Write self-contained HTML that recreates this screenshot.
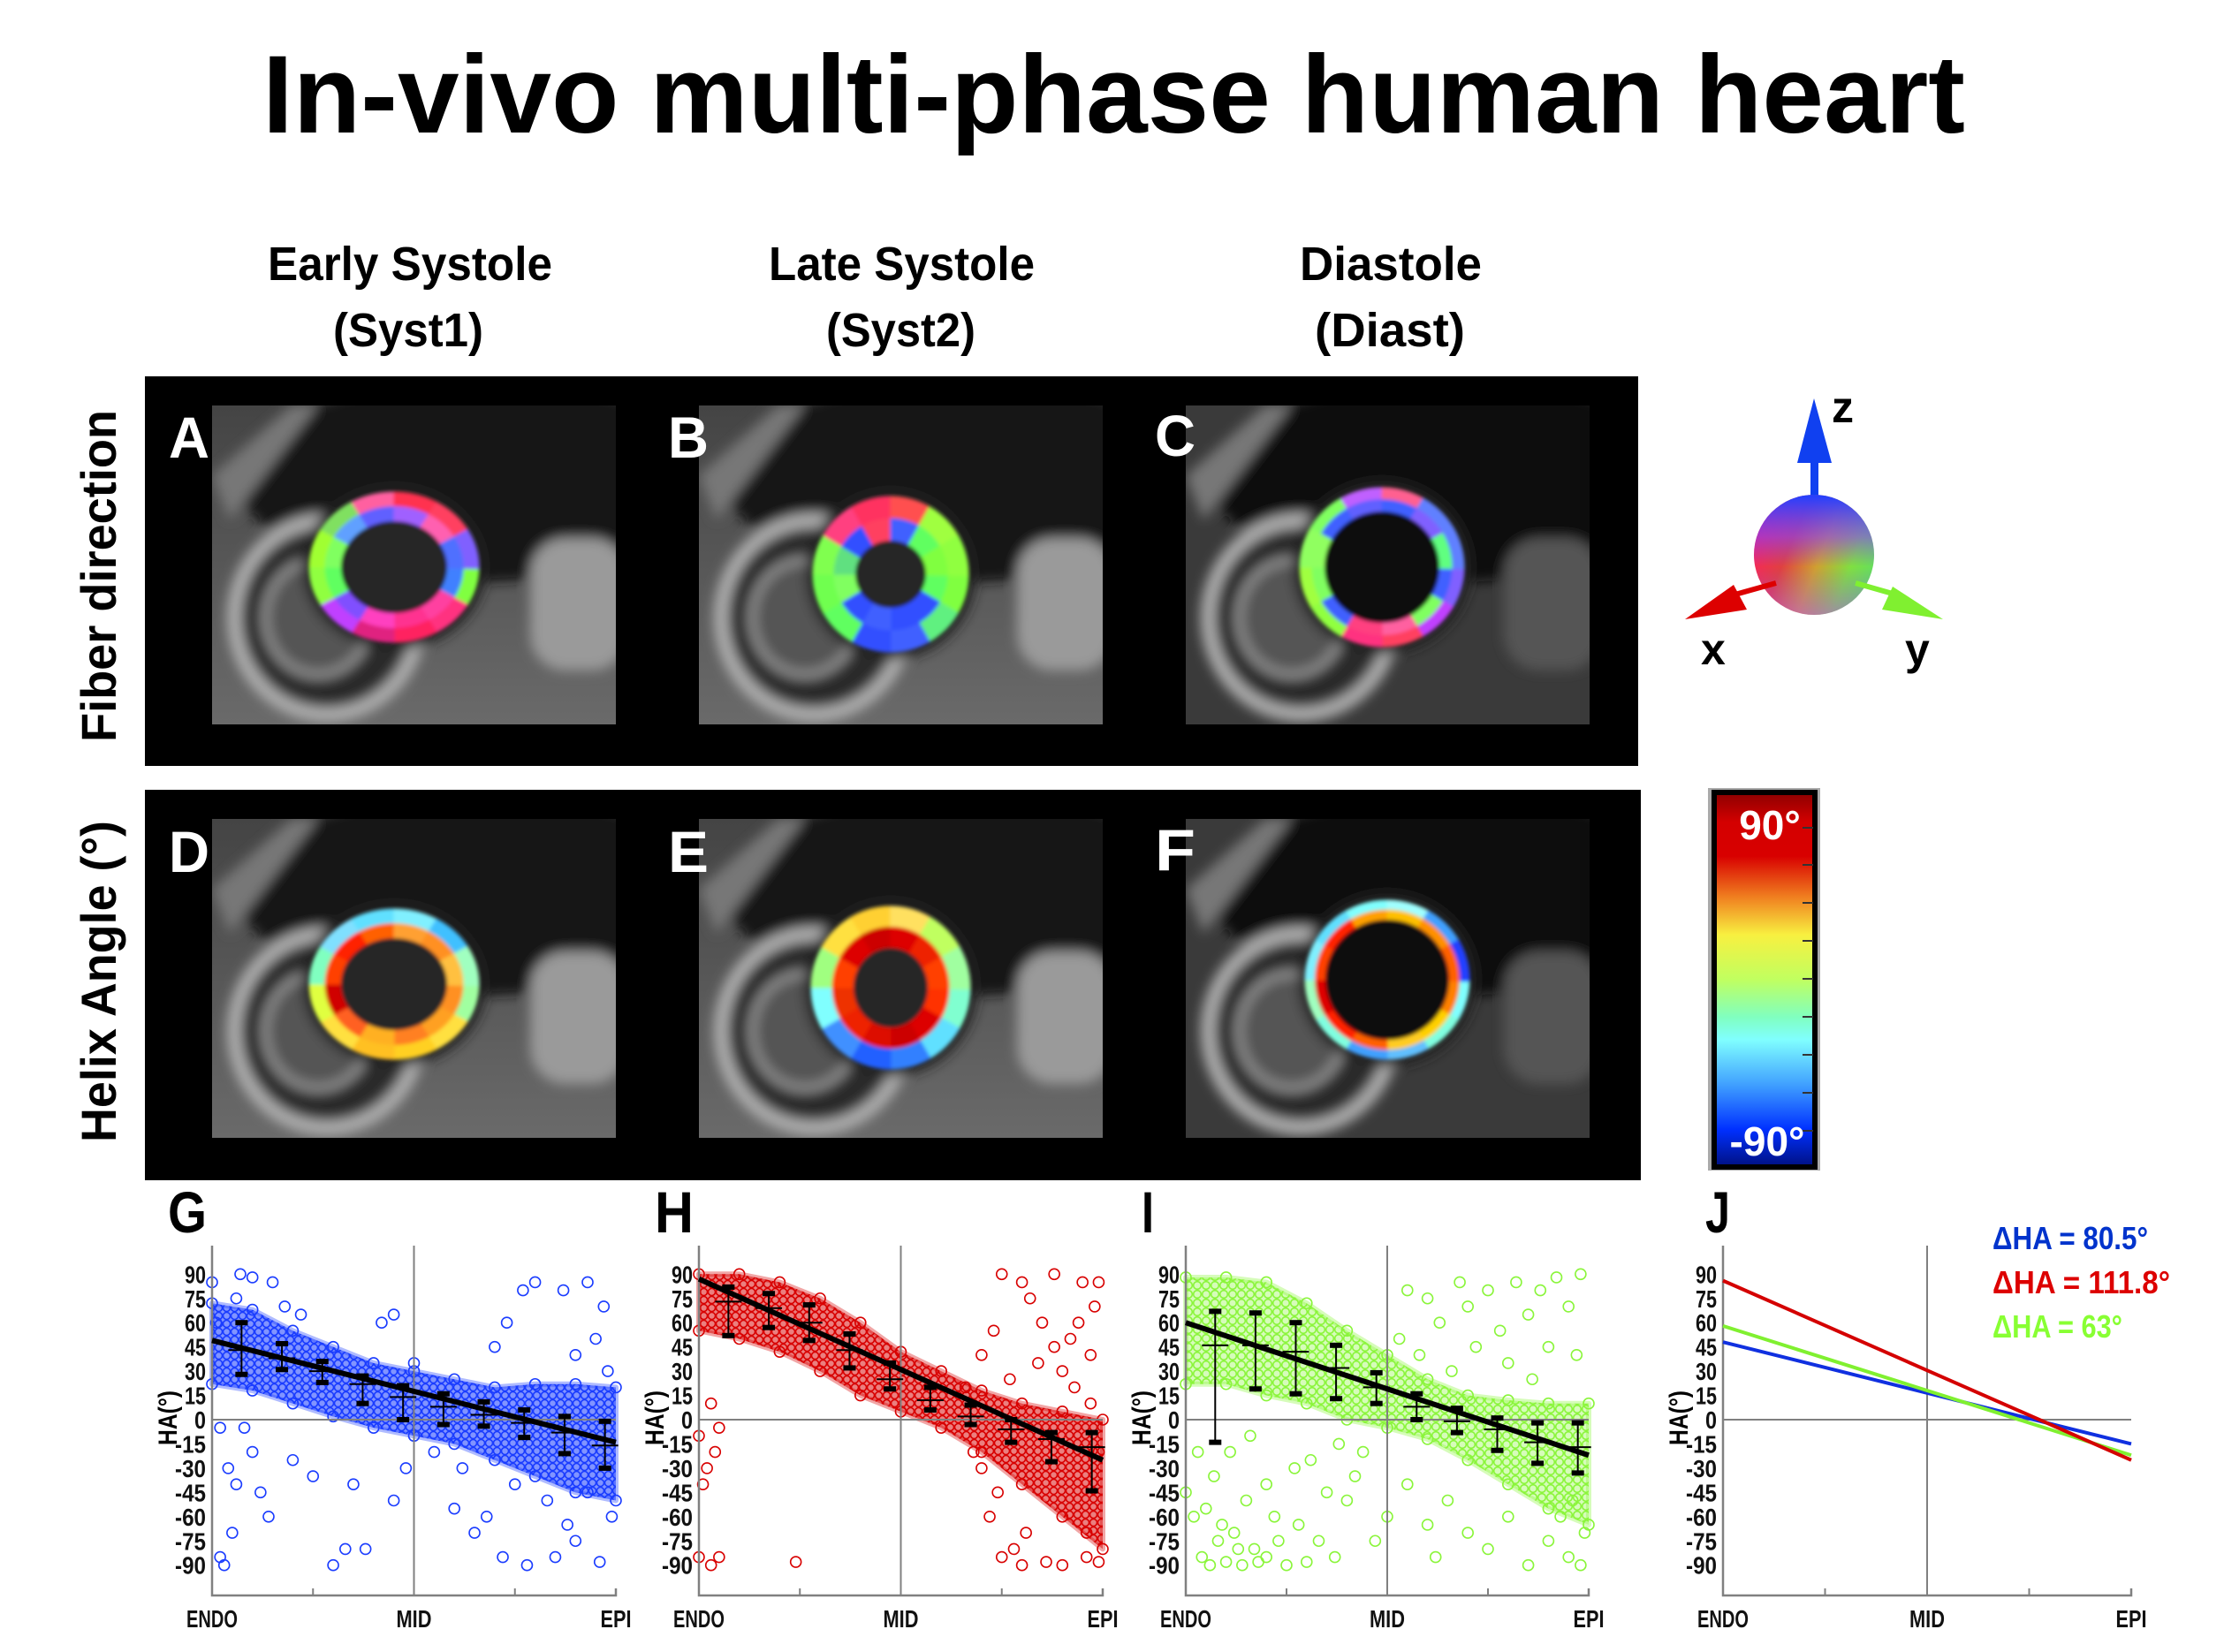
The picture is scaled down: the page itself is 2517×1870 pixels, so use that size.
<!DOCTYPE html>
<html><head><meta charset="utf-8"><title>In-vivo multi-phase human heart</title>
<style>
html,body{margin:0;padding:0;background:#fff;}
svg{display:block;}
text{font-family:"Liberation Sans",sans-serif;font-weight:bold;}
</style></head>
<body>
<svg id="fig" xmlns="http://www.w3.org/2000/svg" width="2517" height="1870" viewBox="0 0 2517 1870">
<defs>
  <filter id="blur6" x="-20%" y="-20%" width="140%" height="140%"><feGaussianBlur stdDeviation="7"/></filter>
  <filter id="blur2" x="-10%" y="-10%" width="120%" height="120%"><feGaussianBlur stdDeviation="2.2"/></filter>
  <pattern id="patB" width="9" height="9" patternUnits="userSpaceOnUse"><rect width="9" height="9" fill="#1a3cff" fill-opacity="0.55"/><circle cx="4.5" cy="4.5" r="4" fill="none" stroke="#1a3cff" stroke-width="1.6"/></pattern>
  <pattern id="patR" width="9" height="9" patternUnits="userSpaceOnUse"><rect width="9" height="9" fill="#d80000" fill-opacity="0.5"/><circle cx="4.5" cy="4.5" r="4" fill="none" stroke="#d80000" stroke-width="1.6"/></pattern>
  <pattern id="patG" width="10" height="10" patternUnits="userSpaceOnUse"><rect width="10" height="10" fill="#8af53a" fill-opacity="0.35"/><circle cx="5" cy="5" r="4.3" fill="none" stroke="#8af53a" stroke-width="1.6"/></pattern>
  <linearGradient id="cbar" x1="0" y1="0" x2="0" y2="1">
    <stop offset="0" stop-color="#8b0000"/><stop offset="0.08" stop-color="#d40000"/><stop offset="0.17" stop-color="#d80000"/>
    <stop offset="0.28" stop-color="#f08020"/><stop offset="0.38" stop-color="#f8f040"/><stop offset="0.5" stop-color="#c0ff60"/>
    <stop offset="0.6" stop-color="#80ffc0"/><stop offset="0.66" stop-color="#80ffff"/><stop offset="0.78" stop-color="#40a0ff"/>
    <stop offset="0.9" stop-color="#0030ff"/><stop offset="1" stop-color="#001080"/>
  </linearGradient>
  <linearGradient id="sphA" x1="0" y1="0.3" x2="1" y2="0.7">
    <stop offset="0" stop-color="#ff2060"/><stop offset="0.3" stop-color="#e04040"/><stop offset="0.55" stop-color="#d0a030"/><stop offset="0.8" stop-color="#80e040"/><stop offset="1" stop-color="#60e060"/>
  </linearGradient>
  <linearGradient id="sphB" x1="0" y1="0" x2="0" y2="1">
    <stop offset="0" stop-color="#2040ff" stop-opacity="1"/><stop offset="0.35" stop-color="#8040ff" stop-opacity="0.6"/><stop offset="0.6" stop-color="#8040ff" stop-opacity="0"/><stop offset="1" stop-color="#c040ff" stop-opacity="0.5"/>
  </linearGradient>
  <linearGradient id="mriBase" x1="0" y1="0" x2="0" y2="1">
    <stop offset="0" stop-color="#444"/><stop offset="1" stop-color="#6a6a6a"/>
  </linearGradient>
</defs>

<text x="297" y="150" font-size="125" textLength="1927" lengthAdjust="spacingAndGlyphs">In-vivo multi-phase human heart</text>

<text x="303" y="317" font-size="54" textLength="322" lengthAdjust="spacingAndGlyphs">Early Systole</text>
<text x="377" y="392" font-size="54" textLength="170" lengthAdjust="spacingAndGlyphs">(Syst1)</text>
<text x="870" y="317" font-size="54" textLength="301" lengthAdjust="spacingAndGlyphs">Late Systole</text>
<text x="935" y="392" font-size="54" textLength="169" lengthAdjust="spacingAndGlyphs">(Syst2)</text>
<text x="1471" y="317" font-size="54" textLength="206" lengthAdjust="spacingAndGlyphs">Diastole</text>
<text x="1488" y="392" font-size="54" textLength="170" lengthAdjust="spacingAndGlyphs">(Diast)</text>

<text transform="translate(131,840) rotate(-90)" font-size="56" textLength="376" lengthAdjust="spacingAndGlyphs">Fiber direction</text>
<text transform="translate(131,1293) rotate(-90)" font-size="56" textLength="364" lengthAdjust="spacingAndGlyphs">Helix Angle (°)</text>

<rect x="164" y="426" width="1690" height="441" fill="#000"/>
<rect x="164" y="894" width="1693" height="442" fill="#000"/>
<g id="mri"></g>

<g>
  <rect x="2049" y="520" width="9" height="80" fill="#1040f0"/>
  <polygon points="2034,524 2073,524 2053,451" fill="#1040f0"/>
  <circle cx="2053" cy="628" r="68" fill="url(#sphA)"/>
  <circle cx="2053" cy="628" r="68" fill="url(#sphB)"/>
  <line x1="2010" y1="660" x2="1960" y2="674" stroke="#d00" stroke-width="6"/>
  <polygon points="1907,701 1962,662 1977,690" fill="#d00"/>
  <line x1="2100" y1="660" x2="2142" y2="672" stroke="#80f030" stroke-width="6"/>
  <polygon points="2199,701 2142,664 2130,690" fill="#80f030"/>
  <text x="2073" y="478" font-size="50">z</text>
  <text x="1925" y="752" font-size="50">x</text>
  <text x="2156" y="752" font-size="50">y</text>
</g>

<g>
  <rect x="1933" y="892" width="127" height="433" fill="#555" opacity="0.5"/>
  <rect x="1940" y="897" width="114" height="424" fill="url(#cbar)" stroke="#000" stroke-width="6"/>
  <g stroke="#333" stroke-width="2">
    <line x1="2040" y1="937" x2="2052" y2="937"/><line x1="2040" y1="979" x2="2052" y2="979"/><line x1="2040" y1="1022" x2="2052" y2="1022"/>
    <line x1="2040" y1="1065" x2="2052" y2="1065"/><line x1="2040" y1="1108" x2="2052" y2="1108"/><line x1="2040" y1="1151" x2="2052" y2="1151"/>
    <line x1="2040" y1="1194" x2="2052" y2="1194"/><line x1="2040" y1="1237" x2="2052" y2="1237"/><line x1="2040" y1="1280" x2="2052" y2="1280"/>
  </g>
  <text x="2003" y="950" font-size="46" fill="#fff" text-anchor="middle">90°</text>
  <text x="2000" y="1308" font-size="46" fill="#fff" text-anchor="middle">-90°</text>
</g>

<g id="plots"></g>
</svg>

<script>
// ---------- chart data ----------
var xLabels = ['ENDO', 'MID', 'EPI'];
var yTicks = [90, 75, 60, 45, 30, 15, 0, -15, -30, -45, -60, -75, -90];
var binX = [0.073, 0.173, 0.273, 0.373, 0.473, 0.573, 0.673, 0.773, 0.873, 0.973];
var cloudX = [0, 0.1, 0.2, 0.3, 0.4, 0.5, 0.6, 0.7, 0.8, 0.9, 1];

var gMean = [43, 38, 30, 22, 14, 8, 3, -2, -8, -16];
var gErrHi = [60, 47, 36, 27, 21, 16, 11, 6, 2, -1];
var gErrLo = [28, 31, 23, 10, 0, -3, -4, -11, -21, -30];
var gCloudHi = [72, 68, 55, 45, 35, 30, 25, 20, 22, 22, 20];
var gCloudLo = [22, 18, 10, 2, -5, -10, -15, -25, -35, -45, -50];
var gReg = [49, -14];
var gOut = [[0,85],[0.02,-85],[0.03,-90],[0.05,-70],[0.04,-30],[0.08,-5],[0.1,-20],[0.12,-45],[0.14,-60],[0.15,85],[0.1,88],[0.07,90],[0.2,-25],[0.25,-35],[0.3,-90],[0.33,-80],[0.38,-80],[0.45,-50],[0.48,-30],[0.5,35],[0.45,65],[0.42,60],[0.7,45],[0.73,60],[0.77,80],[0.8,85],[0.87,80],[0.93,85],[0.97,70],[0.95,50],[0.6,-55],[0.65,-70],[0.72,-85],[0.78,-90],[0.85,-85],[0.9,-75],[0.96,-88],[0.99,-60],[0.98,30],[0.9,40],[0.55,-20],[0.62,-30],[0.83,-50],[0.68,-60],[0.75,-40],[0.01,60],[0.06,75],[0.18,70],[0.22,65],[0.02,-5],[0.06,-40],[0.35,-40],[0.88,-65],[0.93,-45]];

var hMean = [73, 69, 60, 43, 25, 12, 2, -6, -12, -17];
var hErrHi = [82, 78, 71, 53, 35, 20, 9, 0, -8, -8];
var hErrLo = [52, 57, 49, 32, 19, 6, -3, -14, -26, -44];
var hCloudHi = [90, 90, 85, 75, 60, 42, 30, 18, 10, 5, 0];
var hCloudLo = [55, 50, 42, 30, 15, 5, -5, -20, -40, -60, -80];
var hReg = [87, -25];
var hOut = [[0,-10],[0.02,-30],[0.04,-20],[0.01,-40],[0.05,-85],[0.03,-90],[0,-85],[0.24,-88],[0.03,10],[0.05,-5],[0.75,90],[0.8,85],[0.82,75],[0.85,60],[0.88,45],[0.9,30],[0.95,85],[0.98,70],[0.93,20],[0.75,-85],[0.78,-80],[0.8,-90],[0.72,-60],[0.74,-45],[0.7,40],[0.73,55],[0.77,25],[0.97,10],[0.92,50],[0.99,-20],[0.86,-88],[0.9,-90],[0.96,-85],[0.99,-88],[0.88,90],[0.94,60],[0.97,40],[0.99,85],[0.7,-30],[0.68,-20],[0.66,20],[0.84,35],[0.81,-70],[0.96,-70]];

var iMean = [46, 46, 42, 32, 20, 8, -1, -6, -14, -17];
var iErrHi = [67, 66, 60, 46, 29, 16, 7, 1, -2, -2];
var iErrLo = [-14, 19, 16, 13, 10, 0, -8, -19, -27, -33];
var iCloudHi = [88, 88, 85, 72, 55, 40, 25, 15, 12, 10, 10];
var iCloudLo = [22, 22, 15, 10, 0, -5, -12, -25, -40, -55, -65];
var iReg = [60, -22];
var iOut = [[0,-45],[0.02,-60],[0.04,-85],[0.06,-90],[0.08,-75],[0.1,-88],[0.12,-70],[0.14,-90],[0.17,-80],[0.2,-85],[0.22,-60],[0.25,-90],[0.28,-65],[0.3,-88],[0.33,-75],[0.37,-85],[0.4,-50],[0.03,-20],[0.07,-35],[0.15,-50],[0.2,-40],[0.27,-30],[0.35,-45],[0.42,-35],[0.47,-75],[0.5,-60],[0.55,-40],[0.6,-65],[0.62,-85],[0.65,-50],[0.7,-70],[0.75,-80],[0.8,-60],[0.85,-90],[0.9,-75],[0.95,-85],[0.98,-90],[0.55,80],[0.6,75],[0.63,60],[0.68,85],[0.7,70],[0.75,80],[0.78,55],[0.82,85],[0.85,65],[0.88,80],[0.92,88],[0.95,70],[0.98,90],[0.53,50],[0.58,40],[0.72,45],[0.8,35],[0.9,45],[0.97,40],[0.66,30],[0.86,25],[0.05,-55],[0.09,-65],[0.13,-80],[0.18,-88],[0.23,-75],[0.11,-20],[0.16,-10],[0.31,-25],[0.38,-15],[0.44,-20],[0.93,-60],[0.96,-50],[0.99,-70]];

var jBlue = [48, -15];
var jRed = [86, -25];
var jGreen = [58, -22];
var jLegend = ['ΔHA = 80.5°', 'ΔHA =  111.8°', 'ΔHA = 63°'];
var panelLetters = ['G', 'H', 'I', 'J'];

// ---------- helpers ----------
var NS = 'http://www.w3.org/2000/svg';
function mk(tag, attrs, parent) {
  var el = document.createElementNS(NS, tag);
  for (var k in attrs) el.setAttribute(k, attrs[k]);
  parent.appendChild(el);
  return el;
}
function yS(v) { return 1607 - v * 1.83; }
var TOP = 1410, BASE = 1806;
var plotsG = document.getElementById('plots');
var letterW = {G: 44, H: 44, I: 14, J: 28};

function drawAxes(g, left, w, letter, letterX) {
  var L = mk('text', {x: letterX, y: 1395, 'font-size': 66, textLength: letterW[letter], lengthAdjust: 'spacingAndGlyphs'}, g);
  L.textContent = letter;
  
  
  var ax = mk('path', {d: 'M' + left + ' ' + TOP + 'V' + BASE + 'H' + (left + w) + 'v-8', stroke: '#808080', 'stroke-width': 2.5, fill: 'none'}, g);
  
  
  var mid = mk('line', {x1: left + w / 2, y1: TOP, x2: left + w / 2, y2: BASE, stroke: '#808080', 'stroke-width': 2}, g);
  
  
  var zero = mk('line', {x1: left, y1: yS(0), x2: left + w, y2: yS(0), stroke: '#808080', 'stroke-width': 2}, g);
  
  
  [0.25, 0.75].forEach(function (f) {
    var t = mk('line', {x1: left + w * f, y1: BASE, x2: left + w * f, y2: BASE - 8, stroke: '#808080', 'stroke-width': 2}, g);
    
    
  });
  yTicks.forEach(function (v) {
    var s = String(v);
    var t = mk('text', {x: left - 7, y: yS(v) + 10, 'font-size': 28, 'text-anchor': 'end', textLength: s.length * 11 + 2, lengthAdjust: 'spacingAndGlyphs', fill: '#111'}, g);
    t.textContent = s;
    
    
  });
  var yt = mk('text', {transform: 'translate(' + (left - 40) + ',' + 1636 + ') rotate(-90)', 'font-size': 30, textLength: 62, lengthAdjust: 'spacingAndGlyphs'}, g);
  yt.textContent = 'HA(°)';
  
  
  var lw = [58, 40, 35];
  xLabels.forEach(function (lab, k) {
    var t = mk('text', {x: left + w * k / 2, y: 1842, 'font-size': 28, 'text-anchor': 'middle', textLength: lw[k], lengthAdjust: 'spacingAndGlyphs', fill: '#111'}, g);
    t.textContent = lab;
    
    
  });
}

function drawScatter(cfg) {
  var g = mk('g', {}, plotsG);
  
  
  var left = cfg.left, w = cfg.w;
  function xS(p) { return left + p * w; }
  var pts = [];
  cloudX.forEach(function (p, k) { pts.push(xS(p) + ',' + yS(cfg.hi[k])); });
  for (var k = cloudX.length - 1; k >= 0; k--) pts.push(xS(cloudX[k]) + ',' + yS(cfg.lo[k]));
  var band = mk('polygon', {points: pts.join(' '), fill: cfg.pat, stroke: cfg.color, 'stroke-width': 6, 'stroke-opacity': 0.35, 'stroke-linejoin': 'round'}, g);
  
  
  cloudX.forEach(function (p, k) {
    [cfg.hi[k], cfg.lo[k]].forEach(function (v) {
      var c = mk('circle', {cx: xS(p), cy: yS(v), r: 6, fill: 'none', stroke: cfg.color, 'stroke-width': 1.6}, g);
      
      
    });
  });
  cfg.out.forEach(function (d) {
    var c = mk('circle', {cx: xS(d[0]), cy: yS(d[1]), r: 6, fill: 'none', stroke: cfg.color, 'stroke-width': 1.6}, g);
    
    
  });
  drawAxes(g, left, w, cfg.letter, left - 50);
  binX.forEach(function (p, k) {
    var x = xS(p);
    var eb = mk('g', {}, g);
    
    
    mk('line', {x1: x, y1: yS(cfg.hi2[k]), x2: x, y2: yS(cfg.lo2[k]), stroke: '#000', 'stroke-width': 2}, eb);
    mk('line', {x1: x - 15, y1: yS(cfg.mean[k]), x2: x + 15, y2: yS(cfg.mean[k]), stroke: '#000', 'stroke-width': 2}, eb);
    mk('rect', {x: x - 7, y: yS(cfg.hi2[k]) - 3, width: 14, height: 6, fill: '#000'}, eb);
    mk('rect', {x: x - 7, y: yS(cfg.lo2[k]) - 3, width: 14, height: 6, fill: '#000'}, eb);
  });
  var reg = mk('line', {x1: xS(0), y1: yS(cfg.reg[0]), x2: xS(1), y2: yS(cfg.reg[1]), stroke: '#000', 'stroke-width': 6}, g);
  
  
}

drawScatter({letter: panelLetters[0], left: 240, w: 457, color: '#1a3cff', pat: 'url(#patB)', hi: gCloudHi, lo: gCloudLo, out: gOut, mean: gMean, hi2: gErrHi, lo2: gErrLo, reg: gReg});
drawScatter({letter: panelLetters[1], left: 791, w: 457, color: '#d80000', pat: 'url(#patR)', hi: hCloudHi, lo: hCloudLo, out: hOut, mean: hMean, hi2: hErrHi, lo2: hErrLo, reg: hReg});
drawScatter({letter: panelLetters[2], left: 1342, w: 456, color: '#8af53a', pat: 'url(#patG)', hi: iCloudHi, lo: iCloudLo, out: iOut, mean: iMean, hi2: iErrHi, lo2: iErrLo, reg: iReg});

(function () {
  var g = mk('g', {}, plotsG);
  
  
  var left = 1950, w = 462;
  drawAxes(g, left, w, panelLetters[3], 1930);
  var series = [[jBlue, '#1030e0', 'line-syst1'], [jGreen, '#80f030', 'line-diast'], [jRed, '#d40000', 'line-syst2']];
  series.forEach(function (s) {
    var l = mk('line', {x1: left, y1: yS(s[0][0]), x2: left + w, y2: yS(s[0][1]), stroke: s[1], 'stroke-width': 4}, g);
    
    
  });
  var cols = ['#0033cc', '#dd0000', '#88ff33'];
  var lens = [176, 201, 147];
  var ys = [1414, 1464, 1514];
  jLegend.forEach(function (t, k) {
    var tx = mk('text', {x: 2255, y: ys[k], 'font-size': 36, fill: cols[k], textLength: lens[k], lengthAdjust: 'spacingAndGlyphs', 'xml:space': 'preserve'}, g);
    tx.textContent = t;
    
    
  });
})();

// ---------- MRI panels ----------
var mriG = document.getElementById('mri');
function ringSeg(g, cx, cy, rxo, ryo, rxi, ryi, colors) {
  var n = colors.length, sub = 6;
  for (var s = 0; s < n; s++) {
    var a0 = (s / n) * 2 * Math.PI, a1 = ((s + 1) / n) * 2 * Math.PI + 0.02;
    var pts = [];
    for (var t = 0; t <= sub; t++) { var a = a0 + (a1 - a0) * t / sub; pts.push((cx + rxo * Math.cos(a)) + ',' + (cy + ryo * Math.sin(a))); }
    for (var t2 = sub; t2 >= 0; t2--) { var b = a0 + (a1 - a0) * t2 / sub; pts.push((cx + rxi * Math.cos(b)) + ',' + (cy + ryi * Math.sin(b))); }
    mk('polygon', {points: pts.join(' '), fill: colors[s], stroke: colors[s], 'stroke-width': 1}, g);
  }
}
var mriPanels = [
  {n: 'a', x: 240, y: 459, cx: 206, cy: 183, ro: [96, 85], ri: [60, 52], dark: false,
   outer: ['#80ff40','#ff3080','#ff2060','#e02080','#c040ff','#90ff40','#a0ff30','#80e060','#ff60a0','#ff3050','#ff4060','#8060ff'],
   inner: ['#4080ff','#ff40a0','#ff3090','#ff40c0','#8050ff','#60ff60','#80ff60','#60a0ff','#6060ff','#a060ff','#ff60b0','#5070ff']},
  {n: 'b', x: 791, y: 459, cx: 217, cy: 191, ro: [88, 88], ri: [40, 38], dark: false,
   outer: ['#80ff40','#60f080','#4060ff','#3050ff','#60ff60','#70ff50','#80ff50','#ff4080','#ff3060','#ff5050','#a0ff40','#90ff40'],
   inner: ['#60ff60','#3050ff','#3050ff','#4060ff','#3050ff','#80ff60','#60e080','#3050ff','#ff4060','#4060ff','#60ff60','#80ff40']},
  {n: 'c', x: 1342, y: 459, cx: 222, cy: 183, ro: [93, 90], ri: [65, 63], dark: true,
   outer: ['#8060ff','#c040ff','#ff4060','#ff3080','#90ff40','#a0ff40','#90ff60','#80ff60','#c060ff','#ff6090','#6080ff','#6080ff'],
   inner: ['#4060ff','#80ff60','#ff60a0','#ff4080','#4060ff','#80ff60','#90ff60','#4060ff','#6060ff','#4060ff','#8060ff','#60ff80']},
  {n: 'd', x: 240, y: 927, cx: 206, cy: 187, ro: [96, 85], ri: [60, 52], dark: false,
   outer: ['#a0ffa0','#ffe040','#ffd020','#ffc020','#ffe040','#e0ff40','#80ffc0','#80e0ff','#60e0ff','#80f0ff','#40c0ff','#a0ffc0'],
   inner: ['#ff9020','#ffa020','#ff8020','#ffb020','#ff6020','#d00000','#ff4000','#ff2000','#ff6000','#ffa030','#ff9020','#ffc040']},
  {n: 'e', x: 791, y: 927, cx: 217, cy: 191, ro: [90, 92], ri: [42, 45], dark: false,
   outer: ['#80ffd0','#60e0ff','#3080ff','#2060ff','#4090ff','#80ffff','#a0ff80','#ffe040','#ffd030','#ffe060','#c0ff60','#a0ffa0'],
   inner: ['#ff3000','#dd0000','#cc0000','#dd1000','#ee2000','#ee3000','#ff4000','#dd0000','#cc0000','#dd0000','#ee2000','#ff4000']},
  {n: 'f', x: 1342, y: 927, cx: 228, cy: 182, ro: [93, 90], ri: [70, 68], dark: true,
   outer: ['#80ffff','#80ffe0','#60c0ff','#40a0ff','#80ffe0','#a0ffc0','#80f0ff','#60e0ff','#80ffff','#a0ffff','#40a0ff','#2040ff'],
   inner: ['#ff8000','#ffd000','#ffcc20','#ff6000','#ff2000','#dd0000','#ff4000','#ff2000','#ffa000','#ffc000','#ff9000','#ff6000']}
];
var letterPos = {a: [191, 518], b: [756, 518], c: [1307, 516], d: [191, 987], e: [756, 987], f: [1307, 985]};
mriPanels.forEach(function (p) {
  var g = mk('g', {transform: 'translate(' + p.x + ',' + p.y + ')'}, mriG);
  
  
  var clipId = 'clip' + p.n;
  var cp = mk('clipPath', {id: clipId}, g);
  mk('rect', {x: 0, y: 0, width: 457, height: 361}, cp);
  var bg = mk('g', {'clip-path': 'url(#' + clipId + ')'}, g);
  mk('rect', {x: 0, y: 0, width: 457, height: 361, fill: p.dark ? '#3a3a3a' : 'url(#mriBase)'}, bg);
  var bl = mk('g', {filter: 'url(#blur6)'}, bg);
  mk('ellipse', {cx: 300, cy: 85, rx: 270, ry: 115, fill: p.dark ? '#080808' : '#151515'}, bl);
  mk('rect', {x: 360, y: 150, width: 110, height: 150, rx: 40, fill: p.dark ? '#555' : '#9a9a9a'}, bl);
  mk('ellipse', {cx: 130, cy: 240, rx: 105, ry: 110, fill: '#2a2a2a', stroke: '#b0b0b0', 'stroke-width': 16}, bl);
  mk('ellipse', {cx: 120, cy: 240, rx: 60, ry: 65, fill: '#555', stroke: '#999', 'stroke-width': 8}, bl);
  mk('path', {d: 'M0 80 L90 0 L120 0 L20 130 Z', fill: '#777'}, bl);
  mk('ellipse', {cx: p.cx, cy: p.cy, rx: p.ro[0] + 8, ry: p.ro[1] + 8, fill: '#202020'}, bl);
  var ring = mk('g', {filter: 'url(#blur2)'}, bg);
  var rmx = (p.ro[0] + p.ri[0]) / 2, rmy = (p.ro[1] + p.ri[1]) / 2;
  ringSeg(ring, p.cx, p.cy, p.ro[0], p.ro[1], rmx, rmy, p.outer);
  ringSeg(ring, p.cx, p.cy, rmx, rmy, p.ri[0], p.ri[1], p.inner);
  mk('ellipse', {cx: p.cx, cy: p.cy, rx: p.ri[0], ry: p.ri[1], fill: p.dark ? '#0a0a0a' : '#262626'}, ring);
  var lp = letterPos[p.n];
  var t = mk('text', {x: lp[0], y: lp[1], 'font-size': 66, fill: '#fff', textLength: 46, lengthAdjust: 'spacingAndGlyphs'}, mriG);
  t.textContent = p.n.toUpperCase();
  
  
});
</script>
</body></html>
